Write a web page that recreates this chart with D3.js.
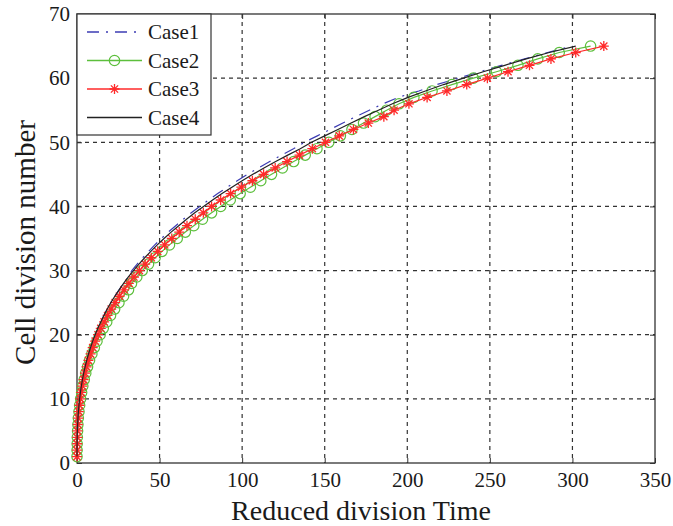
<!DOCTYPE html>
<html>
<head>
<meta charset="utf-8">
<script src="https://cdn.jsdelivr.net/npm/d3@7"></script>
<style>
  body { margin: 0; background: #fff; }
  text { font-family: "Liberation Serif", "Times New Roman", serif; fill: #1a1a1a; }
</style>
</head>
<body>
<svg id="chart" width="673" height="526"></svg>
<script>
// division number (y) shared by every case
const divisions = [1,2,3,4,5,6,7,8,9,10,11,12,13,14,15,16,17,18,19,20,21,22,23,24,25,26,27,28,29,30,
  31,32,33,34,35,36,37,38,39,40,41,42,43,44,45,46,47,48,49,50,51,52,53,54,55,56,57,58,59,60,61,62,63,64,65];

// reduced division time (x), one per division
const case1Time = [0,0.02,0.05,0.12,0.23,0.38,0.58,0.85,1.18,1.58,2.06,2.63,3.29,4.05,4.91,5.89,6.98,8.19,9.52,11.0,
  12.6,14.4,16.3,18.3,20.5,22.9,25.5,28.2,31.1,33.2,36.4,39.8,43.4,47.1,51.1,55.3,59.8,64.3,69.2,74.3,
  79.6,85.2,91.0,97.0,103.3,109.8,116.7,123.8,131.1,137.7,145.5,153.3,161.0,168.8,177.0,185.3,194.5,207,218,231,
  244,257,271,285,300];
const case2Time = [0,0.05,0.1,0.2,0.35,0.55,0.8,1.2,1.6,2.2,2.8,3.5,4.4,5.3,6.4,7.6,9.0,10.5,12.1,14.0,
  15.9,18.0,20.3,22.8,25.4,28.2,31.2,33.0,36.2,39.5,43.3,47.3,51.5,56.0,60.7,65.6,70.7,76.0,81.5,87.0,
  92.8,98.8,105.0,111.3,117.8,124.4,131.2,138.2,145.3,152.5,159.5,166.5,173.5,180.5,187.5,195.0,204,215,227,240,
  254,267,279,292,311];
const case3Time = [0,0.03,0.1,0.2,0.3,0.5,0.7,1.1,1.5,2.0,2.5,3.2,4.0,4.8,5.8,6.9,8.2,9.5,11.0,12.7,
  14.4,16.4,18.5,20.7,23.1,25.7,28.5,31.4,34.5,37.8,41.3,45.0,48.9,53.1,57.4,61.9,66.6,71.6,76.5,81.5,
  87.0,93.0,99.5,106.2,113.0,120.0,127.2,134.7,142.5,150.5,158.8,167.4,176.4,185.8,192.0,201.0,212.0,224.0,236.0,248.5,
  261.0,274.0,287.0,302.0,319.0];
const case4Time = [0,0.02,0.05,0.12,0.23,0.38,0.58,0.85,1.18,1.58,2.06,2.63,3.29,4.05,4.91,5.89,6.98,8.19,9.52,11.0,
  12.6,14.4,16.3,18.3,20.5,22.9,25.5,28.2,31.1,34.2,37.5,41.0,44.7,48.6,52.7,57.0,61.6,66.3,71.3,76.6,
  82.1,87.8,93.8,100,106.5,113.2,120.3,127.6,135.2,142.0,150.0,158.0,166.0,174.0,182.5,191.0,200.5,211,222,234,
  246,259,272,286,302];

const caseNames = ["Case1", "Case2", "Case3", "Case4"];
const xTicks = [0, 50, 100, 150, 200, 250, 300, 350];
const yTicks = [0, 10, 20, 30, 40, 50, 60, 70];

const margin = {left: 77, top: 14, right: 18, bottom: 63},
      width = 673 - margin.left - margin.right,
      height = 526 - margin.top - margin.bottom;

const svg = d3.select("#chart");
const g = svg.append("g").attr("transform", `translate(${margin.left},${margin.top})`);

const x = d3.scaleLinear().domain([0, 350]).range([0, width]);
const y = d3.scaleLinear().domain([0, 70]).range([height, 0]);

// dashed grid
g.append("g").selectAll("line").data(xTicks.slice(1, -1)).join("line")
  .attr("x1", d => x(d)).attr("x2", d => x(d)).attr("y1", 0).attr("y2", height)
  .attr("stroke", "#333").attr("stroke-width", 1.2).attr("stroke-dasharray", "4,4");
g.append("g").selectAll("line").data(yTicks.slice(1, -1)).join("line")
  .attr("x1", 0).attr("x2", width).attr("y1", d => y(d)).attr("y2", d => y(d))
  .attr("stroke", "#333").attr("stroke-width", 1.2).attr("stroke-dasharray", "4,4");

// axes, ticks pointing inward like matlab
g.append("g").attr("transform", `translate(0,${height})`)
  .call(d3.axisBottom(x).tickValues(xTicks).tickSize(-5).tickPadding(9).tickSizeOuter(0));
g.append("g")
  .call(d3.axisLeft(y).tickValues(yTicks).tickSize(-5).tickPadding(7).tickSizeOuter(0));
g.append("g").attr("transform", `translate(${width},0)`)
  .call(d3.axisLeft(y).tickValues(yTicks).tickSize(5).tickFormat("").tickSizeOuter(0));
g.append("g")
  .call(d3.axisBottom(x).tickValues(xTicks).tickSize(5).tickFormat("").tickSizeOuter(0));
g.selectAll(".domain").remove();
g.selectAll(".tick line").attr("stroke", "#333");
g.selectAll(".tick text").style("font-size", "21px").attr("fill", "#1a1a1a");

g.append("rect").attr("width", width).attr("height", height)
  .attr("fill", "none").attr("stroke", "#333").attr("stroke-width", 1.3);

const line = d3.line().x(d => x(d[0])).y(d => y(d[1]));
const pts = times => times.map((t, i) => [t, divisions[i]]);

const starPath = "M-5,0L5,0M0,-5L0,5M-3.6,-3.6L3.6,3.6M-3.6,3.6L3.6,-3.6";
const dashDot = "12,7,2,7";

// Case1 blue dash-dot
g.append("path").datum(pts(case1Time)).attr("d", line)
  .attr("fill", "none").attr("stroke", "#3c3cb4").attr("stroke-width", 1.2)
  .attr("stroke-dasharray", dashDot);

// Case2 green circles
g.append("path").datum(pts(case2Time)).attr("d", line)
  .attr("fill", "none").attr("stroke", "#5cbf3c").attr("stroke-width", 1.2);
g.append("g").selectAll("circle").data(pts(case2Time)).join("circle")
  .attr("cx", d => x(d[0])).attr("cy", d => y(d[1])).attr("r", 5.2)
  .attr("fill", "none").attr("stroke", "#5cbf3c").attr("stroke-width", 1.2);

// Case3 red stars
g.append("path").datum(pts(case3Time)).attr("d", line)
  .attr("fill", "none").attr("stroke", "#ff2a2a").attr("stroke-width", 1.2);
g.append("g").selectAll("path").data(pts(case3Time)).join("path")
  .attr("transform", d => `translate(${x(d[0])},${y(d[1])})`)
  .attr("d", starPath).attr("stroke", "#ff2a2a").attr("stroke-width", 1.3);

// Case4 black solid
g.append("path").datum(pts(case4Time)).attr("d", line)
  .attr("fill", "none").attr("stroke", "#222").attr("stroke-width", 1.2);

// legend
const legend = g.append("g");
legend.append("rect").attr("x", 0).attr("y", 0).attr("width", 134).attr("height", 121)
  .attr("fill", "#fff").attr("stroke", "#333").attr("stroke-width", 1.2);
const styles = [
  {stroke: "#3c3cb4", dash: dashDot, marker: null},
  {stroke: "#5cbf3c", dash: null, marker: "circle"},
  {stroke: "#ff2a2a", dash: null, marker: "star"},
  {stroke: "#222", dash: null, marker: null}
];
caseNames.forEach((name, i) => {
  const ly = 18 + i * 28.5;
  const s = styles[i];
  legend.append("line").attr("x1", 10).attr("x2", 65).attr("y1", ly).attr("y2", ly)
    .attr("stroke", s.stroke).attr("stroke-width", 1.4).attr("stroke-dasharray", s.dash);
  if (s.marker === "circle")
    legend.append("circle").attr("cx", 37.5).attr("cy", ly).attr("r", 5.2)
      .attr("fill", "none").attr("stroke", s.stroke).attr("stroke-width", 1.2);
  if (s.marker === "star")
    legend.append("path").attr("transform", `translate(37.5,${ly})`).attr("d", starPath)
      .attr("stroke", s.stroke).attr("stroke-width", 1.3);
  legend.append("text").attr("x", 71).attr("y", ly).attr("dy", "0.35em")
    .style("font-size", "21px").text(name);
});

// axis titles
svg.append("text").attr("x", margin.left + width / 2 - 5).attr("y", 520)
  .attr("text-anchor", "middle").style("font-size", "28px").text("Reduced division Time");
svg.append("text").attr("transform", `translate(35,${margin.top + height / 2 + 4}) rotate(-90)`)
  .attr("text-anchor", "middle").style("font-size", "29px").text("Cell division number");
</script>
</body>
</html>
